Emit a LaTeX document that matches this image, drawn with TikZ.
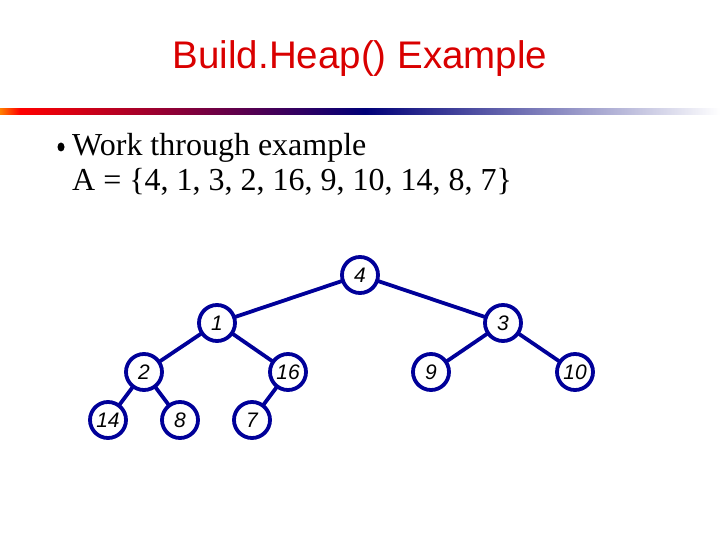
\documentclass[tikz,border=0pt]{standalone}
\usepackage{fontspec}
\usetikzlibrary{shapes.geometric}
\setmainfont{Liberation Serif}
\newfontfamily\arialf{Liberation Sans}
\begin{document}
\begin{tikzpicture}[x=1pt,y=-1pt,
  hnode/.style={circle,draw=blue!60!black,line width=3.8pt,fill=white,minimum size=36pt,inner sep=0pt,font=\arialf\itshape\fontsize{21}{21}\selectfont},
  edge/.style={draw=blue!60!black,line width=3.8pt}]
\useasboundingbox (0,0) rectangle (720,540);
\node[font=\arialf\fontsize{38.5}{38.5}\selectfont,text=red!85!black] (title) at (360,59) {Build.Heap() Example};
\shade[left color=orange,right color=red] (0,109) rectangle (20,115);
\shade[left color=red,right color={rgb,255:red,0;green,0;blue,120}] (20,109) rectangle (365,115);
\shade[left color={rgb,255:red,0;green,0;blue,120},right color=white] (365,109) rectangle (720,115);
\node[ellipse,fill=black,inner sep=0pt,minimum width=7pt,minimum height=9pt] (bul) at (61,147) {};
\node[anchor=base west,font=\fontsize{32}{32}\selectfont,inner sep=0pt] (l1) at (72,156) {Work through example};
\node[anchor=base west,font=\fontsize{32}{32}\selectfont,inner sep=0pt] (l2) at (72,191) {A = \{4, 1, 3, 2, 16, 9, 10, 14, 8, 7\}};
\coordinate (c4) at (360,275);
\coordinate (c1) at (217,323);
\coordinate (c3) at (503,323);
\coordinate (c2) at (144,372);
\coordinate (c16) at (288,372);
\coordinate (c9) at (431,372);
\coordinate (c10) at (575,372);
\coordinate (c14) at (108,420);
\coordinate (c8) at (180,420);
\coordinate (c7) at (252,420);
\draw[edge] (c4)--(c1) (c4)--(c3) (c1)--(c2) (c1)--(c16) (c3)--(c9) (c3)--(c10)
  (c2)--(c14) (c2)--(c8) (c16)--(c7);
\foreach \n in {4,1,3,2,16,9,10,14,8,7} \node[hnode] (n\n) at (c\n) {\n};
\end{tikzpicture}
\end{document}
